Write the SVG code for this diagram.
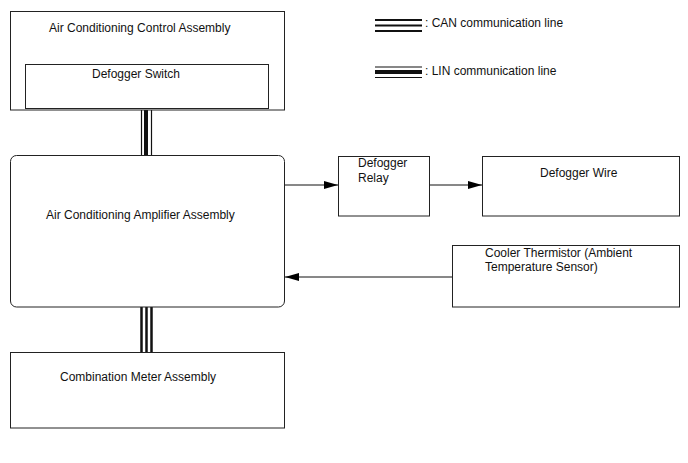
<svg xmlns="http://www.w3.org/2000/svg" width="688" height="463" viewBox="0 0 688 463">
<defs>
<style>
text{font-family:"Liberation Sans",Arial,sans-serif;font-size:12px;fill:#111}
.box{fill:#fff;stroke:#222;stroke-width:1}
.ln{stroke:#111;fill:none}
</style>
<marker id="ah" markerWidth="14" markerHeight="8" refX="14" refY="4" orient="auto" markerUnits="userSpaceOnUse">
<path d="M0,0 L14,4 L0,8 Z" fill="#000"/>
</marker>
</defs>
<rect width="688" height="463" fill="#fff"/>
<g id="legend">
<line class="ln" x1="375" y1="20" x2="422" y2="20" stroke-width="2"/>
<line class="ln" x1="375" y1="25.5" x2="422" y2="25.5" stroke-width="2"/>
<line class="ln" x1="375" y1="31" x2="422" y2="31" stroke-width="2"/>
<text x="425" y="27">: CAN communication line</text>
<line class="ln" x1="375" y1="67" x2="422" y2="67" stroke-width="1.2"/>
<line class="ln" x1="375" y1="72" x2="422" y2="72" stroke-width="4"/>
<line class="ln" x1="375" y1="77.5" x2="422" y2="77.5" stroke-width="1.2"/>
<text x="425" y="75">: LIN communication line</text>
</g>
<g id="connectors">
<line class="ln" x1="141.5" y1="110" x2="141.5" y2="155" stroke-width="1.2"/>
<line class="ln" x1="146" y1="110" x2="146" y2="155" stroke-width="4"/>
<line class="ln" x1="151.5" y1="110" x2="151.5" y2="155" stroke-width="1.2"/>
<line class="ln" x1="141.5" y1="307" x2="141.5" y2="352" stroke-width="2.5"/>
<line class="ln" x1="146.5" y1="307" x2="146.5" y2="352" stroke-width="2.5"/>
<line class="ln" x1="151.5" y1="307" x2="151.5" y2="352" stroke-width="2.5"/>
<line class="ln" x1="285" y1="185" x2="338" y2="185" stroke-width="1" marker-end="url(#ah)"/>
<line class="ln" x1="430" y1="185" x2="482" y2="185" stroke-width="1" marker-end="url(#ah)"/>
<line class="ln" x1="452" y1="277" x2="285" y2="277" stroke-width="1" marker-end="url(#ah)"/>
</g>
<g id="control">
<rect class="box" x="10.5" y="11.5" width="274" height="98.5"/>
<text x="49" y="32">Air Conditioning Control Assembly</text>
</g>
<g id="switch">
<rect class="box" x="25.5" y="64.5" width="243" height="44"/>
<text x="92" y="78">Defogger Switch</text>
</g>
<g id="amplifier">
<rect class="box" x="10.5" y="155.5" width="274" height="151.5" rx="6"/>
<text x="46" y="219">Air Conditioning Amplifier Assembly</text>
</g>
<g id="meter">
<rect class="box" x="10.5" y="352.5" width="274" height="75.5"/>
<text x="60" y="381">Combination Meter Assembly</text>
</g>
<g id="relay">
<rect class="box" x="338.5" y="156.5" width="91" height="59.5"/>
<text x="358" y="167">Defogger</text>
<text x="358" y="182">Relay</text>
</g>
<g id="wire">
<rect class="box" x="482.5" y="156.5" width="197" height="59.5"/>
<text x="540" y="177">Defogger Wire</text>
</g>
<g id="thermistor">
<rect class="box" x="452.5" y="245.5" width="227" height="61.5"/>
<text x="485" y="257">Cooler Thermistor (Ambient</text>
<text x="485" y="271">Temperature Sensor)</text>
</g>
</svg>
